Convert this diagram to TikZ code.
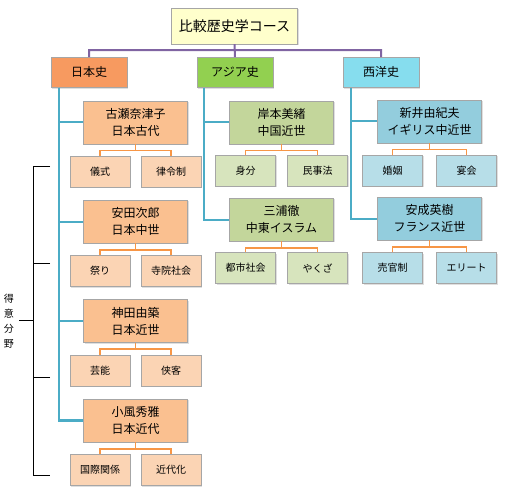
\documentclass[tikz,border=0pt]{standalone}
\usepackage{fontspec}
\setmainfont{Noto Sans CJK JP}
\usetikzlibrary{positioning,shadows}

\definecolor{courseyellow}{HTML}{FFFFCC}
\definecolor{jporange}{HTML}{F79A60}
\definecolor{jppeach}{HTML}{FAC090}
\definecolor{jplight}{HTML}{FBD4B4}
\definecolor{asiagreen}{HTML}{92D050}
\definecolor{asiaolive}{HTML}{C3D69B}
\definecolor{asialight}{HTML}{D7E4BD}
\definecolor{westcyan}{HTML}{86DDEE}
\definecolor{westblue}{HTML}{93CDDD}
\definecolor{westlight}{HTML}{B7DEE8}
\definecolor{linepurple}{HTML}{8064A2}
\definecolor{lineblue}{HTML}{4BACC6}
\definecolor{lineorange}{HTML}{F79646}

\begin{document}
\begin{tikzpicture}[thick,
  box/.style={rectangle,draw=black!35,thin,inner sep=1pt,
    drop shadow={opacity=0.25,shadow xshift=1.2pt,shadow yshift=-1.2pt}},
  course node/.style={box,fill=courseyellow,minimum width=126pt,minimum height=36pt,font=\fontsize{14}{16}\selectfont},
  field node/.style={box,minimum width=76pt,minimum height=30pt,font=\fontsize{12}{14}\selectfont},
  person node/.style={box,minimum width=104pt,minimum height=43pt,align=center,font=\fontsize{12}{17}\selectfont},
  topic node/.style={box,minimum width=60pt,minimum height=31pt,font=\fontsize{10}{12}\selectfont},
  course line/.style={draw=linepurple,line width=2pt},
  field line/.style={draw=lineblue,line width=2.2pt},
  topic line/.style={draw=lineorange,line width=1.8pt},
  bracket line/.style={draw=black,line width=1pt}]

  \useasboundingbox (0,0) rectangle (506pt,-494pt);

  \node[course node] (course) at (234.5pt,-26pt) {比較歴史学コース};

  \node[field node,fill=jporange] (jp) [below=13pt of course,xshift=-145.5pt] {日本史};
  \node[field node,fill=asiagreen] (asia) [below=13pt of course,xshift=0.5pt] {アジア史};
  \node[field node,fill=westcyan] (west) [below=13pt of course,xshift=146.5pt] {西洋史};

  % Japan
  \node[person node,fill=jppeach] (furuse) [below=13pt of jp,xshift=46.5pt] {古瀬奈津子\\日本古代};
  \node[person node,fill=jppeach] (yasuda) [below=56pt of furuse] {安田次郎\\日本中世};
  \node[person node,fill=jppeach] (kanda) [below=56pt of yasuda] {神田由築\\日本近世};
  \node[person node,fill=jppeach] (kokaze) [below=56pt of kanda] {小風秀雅\\日本近代};

  \node[topic node,fill=jplight] (gishiki) [below=12pt of furuse,xshift=-35.5pt] {儀式};
  \node[topic node,fill=jplight] (ritsuryo) [below=12pt of furuse,xshift=35.5pt] {律令制};
  \node[topic node,fill=jplight] (matsuri) [below=12pt of yasuda,xshift=-35.5pt] {祭り};
  \node[topic node,fill=jplight] (jiin) [below=12pt of yasuda,xshift=35.5pt] {寺院社会};
  \node[topic node,fill=jplight] (geino) [below=12pt of kanda,xshift=-35.5pt] {芸能};
  \node[topic node,fill=jplight] (kyokaku) [below=12pt of kanda,xshift=35.5pt] {侠客};
  \node[topic node,fill=jplight] (kokusai) [below=12pt of kokaze,xshift=-35.5pt] {国際関係};
  \node[topic node,fill=jplight] (kindaika) [below=12pt of kokaze,xshift=35.5pt] {近代化};

  % Asia
  \node[person node,fill=asiaolive] (kishimoto) [below=13pt of asia,xshift=46.5pt] {岸本美緒\\中国近世};
  \node[person node,fill=asiaolive] (miura) [below=54pt of kishimoto] {三浦徹\\中東イスラム};

  \node[topic node,fill=asialight] (mibun) [below=11pt of kishimoto,xshift=-36pt] {身分};
  \node[topic node,fill=asialight] (minji) [below=11pt of kishimoto,xshift=36pt] {民事法};
  \node[topic node,fill=asialight] (toshi) [below=11pt of miura,xshift=-36pt] {都市社会};
  \node[topic node,fill=asialight] (yakuza) [below=11pt of miura,xshift=36pt] {やくざ};

  % West
  \node[person node,fill=westblue] (arai) [below=12pt of west,xshift=48.5pt] {新井由紀夫\\イギリス中近世};
  \node[person node,fill=westblue] (yasunari) [below=54pt of arai] {安成英樹\\フランス近世};

  \node[topic node,fill=westlight] (konin) [below=12pt of arai,xshift=-37pt] {婚姻};
  \node[topic node,fill=westlight] (enkai) [below=12pt of arai,xshift=37pt] {宴会};
  \node[topic node,fill=westlight] (baikan) [below=12pt of yasunari,xshift=-37pt] {売官制};
  \node[topic node,fill=westlight] (elite) [below=12pt of yasunari,xshift=37pt] {エリート};

  % connectors
  \path[course line]
    (course.south) -- ++(0,-6pt) -| (jp.north)
    (course.south) -- ++(0,-6pt) -| (west.north)
    (course.south) -- (asia.north);

  \draw[field line] ([xshift=8pt]jp.south west) |- (furuse.west);
  \draw[field line] ([xshift=8pt]jp.south west) |- (yasuda.west);
  \draw[field line] ([xshift=8pt]jp.south west) |- (kanda.west);
  \draw[field line] ([xshift=8pt]jp.south west) |- (kokaze.west);
  \draw[field line] ([xshift=7pt]asia.south west) |- (kishimoto.west);
  \draw[field line] ([xshift=7pt]asia.south west) |- (miura.west);
  \draw[field line] ([xshift=8pt]west.south west) |- (arai.west);
  \draw[field line] ([xshift=8pt]west.south west) |- (yasunari.west);

  \foreach \p/\a/\b in {furuse/gishiki/ritsuryo,yasuda/matsuri/jiin,kanda/geino/kyokaku,
      kokaze/kokusai/kindaika,kishimoto/mibun/minji,miura/toshi/yakuza,
      arai/konin/enkai,yasunari/baikan/elite}{
    \draw[topic line] (\p.south) -- ++(0,-6.5pt) -| (\a.north);
    \draw[topic line] (\p.south) -- ++(0,-6.5pt) -| (\b.north);
  }

  % bracket
  \node[align=center,inner sep=0pt,font=\fontsize{10}{15}\selectfont] (forte) at (9pt,-321pt) {得\\意\\分\\野};
  \coordinate (tick a) at (50pt,-167pt);
  \coordinate (tick b) at (50pt,-264pt);
  \coordinate (tick c) at (50pt,-377pt);
  \coordinate (tick d) at (50pt,-475pt);
  \draw[bracket line] (tick a) -| ([xshift=-17pt]tick d) -- (tick d);
  \draw[bracket line] (tick b) -- ++(-17pt,0);
  \draw[bracket line] (tick c) -- ++(-17pt,0);
  \draw[bracket line] ([xshift=5pt]forte.east |- 0,-321pt) -- ++(14pt,0);
\end{tikzpicture}
\end{document}
